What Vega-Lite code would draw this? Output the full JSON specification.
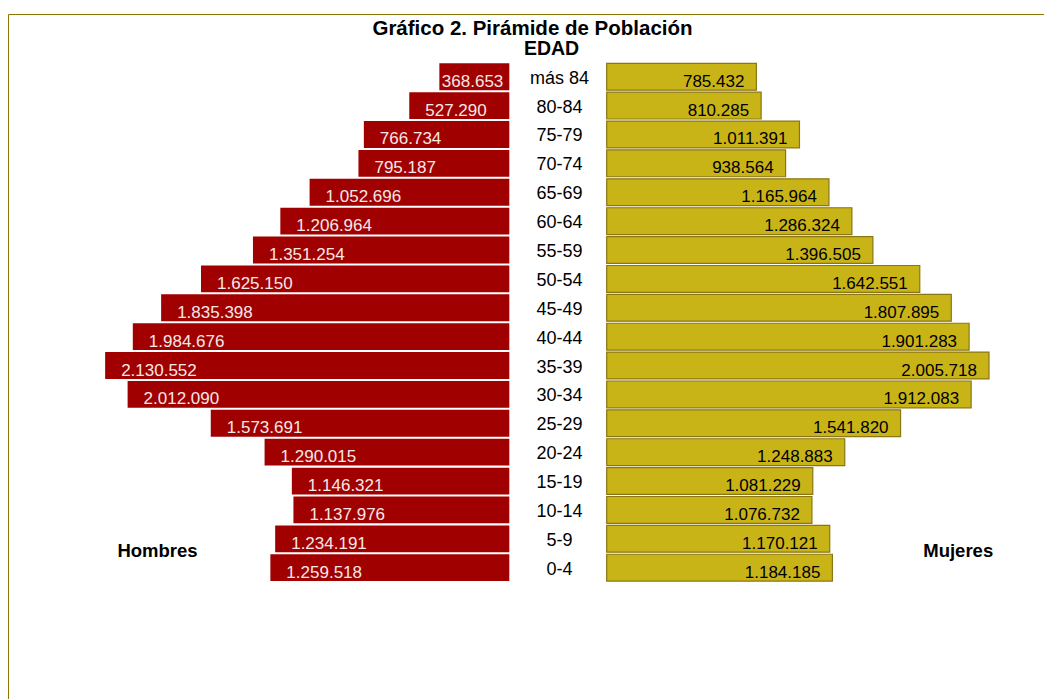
{
  "$schema": "https://vega.github.io/schema/vega-lite/v6.json",
  "width": 1038,
  "height": 687,
  "autosize": {"type": "none"},
  "padding": {"left": 8, "top": 14, "right": -2, "bottom": -2},
  "background": "white",
  "config": {
    "view": {"stroke": "#8c7500", "strokeWidth": 1},
    "font": "Liberation Sans",
    "locale": {"number": {"decimal": ",", "thousands": ".", "grouping": [3], "currency": ["", ""]}}
  },
  "title": {
    "text": "Gráfico 2. Pirámide de Población",
    "fontSize": 20.5,
    "fontWeight": "bold",
    "color": "black",
    "anchor": "middle",
    "baseline": "alphabetic",
    "offset": -41,
    "dx": 5.5
  },
  "data": {
    "values": [
      {"age": "más 84", "hombres": 368653, "mujeres": 785432},
      {"age": "80-84", "hombres": 527290, "mujeres": 810285},
      {"age": "75-79", "hombres": 766734, "mujeres": 1011391},
      {"age": "70-74", "hombres": 795187, "mujeres": 938564},
      {"age": "65-69", "hombres": 1052696, "mujeres": 1165964},
      {"age": "60-64", "hombres": 1206964, "mujeres": 1286324},
      {"age": "55-59", "hombres": 1351254, "mujeres": 1396505},
      {"age": "50-54", "hombres": 1625150, "mujeres": 1642551},
      {"age": "45-49", "hombres": 1835398, "mujeres": 1807895},
      {"age": "40-44", "hombres": 1984676, "mujeres": 1901283},
      {"age": "35-39", "hombres": 2130552, "mujeres": 2005718},
      {"age": "30-34", "hombres": 2012090, "mujeres": 1912083},
      {"age": "25-29", "hombres": 1573691, "mujeres": 1541820},
      {"age": "20-24", "hombres": 1290015, "mujeres": 1248883},
      {"age": "15-19", "hombres": 1146321, "mujeres": 1081229},
      {"age": "10-14", "hombres": 1137976, "mujeres": 1076732},
      {"age": "5-9", "hombres": 1234191, "mujeres": 1170121},
      {"age": "0-4", "hombres": 1259518, "mujeres": 1184185}
    ]
  },
  "resolve": {"scale": {"x": "independent"}},
  "layer": [
    {
      "encoding": {
        "y": {
          "field": "age", "type": "nominal",
          "scale": {
            "domain": ["más 84", "80-84", "75-79", "70-74", "65-69", "60-64", "55-59", "50-54", "45-49", "40-44", "35-39", "30-34", "25-29", "20-24", "15-19", "10-14", "5-9", "0-4"],
            "range": [48.3, 568.1], "paddingInner": 0.072, "paddingOuter": 0.036
          },
          "axis": {
            "orient": "left", "offset": -551, "domain": false, "ticks": false, "grid": false,
            "labelPadding": 0, "labelAlign": "center", "labelBaseline": "middle", "labelOffset": 2,
            "labelFontSize": 18, "labelColor": "black",
            "title": "EDAD", "titleAngle": 0, "titleX": -8, "titleY": 40,
            "titleAlign": "center", "titleBaseline": "alphabetic",
            "titleFontSize": 19.5, "titleFontWeight": "bold", "titleColor": "black"
          }
        },
        "x": {
          "field": "hombres", "type": "quantitative",
          "scale": {"domain": [0, 2000000], "range": [501.3, 121.9], "nice": false, "zero": true},
          "axis": {
            "orient": "bottom", "domain": false, "ticks": false, "labels": false, "grid": false,
            "title": "Hombres", "titleX": 149, "titleY": -145, "titleAngle": 0,
            "titleAlign": "center", "titleBaseline": "alphabetic",
            "titleFontSize": 18.5, "titleFontWeight": "bold", "titleColor": "black"
          }
        }
      },
      "layer": [
        {"mark": {"type": "bar", "color": "#a10000"}},
        {
          "transform": [{"filter": "datum.hombres >= 400000"}],
          "mark": {"type": "text", "align": "left", "baseline": "alphabetic", "dx": 16, "dy": 10, "fontSize": 17, "color": "#f4e8e8"},
          "encoding": {"text": {"field": "hombres", "type": "quantitative", "format": ",d"}}
        },
        {
          "transform": [{"filter": "datum.hombres < 400000"}],
          "mark": {"type": "text", "align": "left", "baseline": "alphabetic", "dx": 2.5, "dy": 10, "fontSize": 17, "color": "#f4e8e8"},
          "encoding": {"text": {"field": "hombres", "type": "quantitative", "format": ",d"}}
        }
      ]
    },
    {
      "encoding": {
        "y": {
          "field": "age", "type": "nominal",
          "scale": {
            "domain": ["más 84", "80-84", "75-79", "70-74", "65-69", "60-64", "55-59", "50-54", "45-49", "40-44", "35-39", "30-34", "25-29", "20-24", "15-19", "10-14", "5-9", "0-4"],
            "range": [48.3, 568.1], "paddingInner": 0.072, "paddingOuter": 0.036
          },
          "axis": {
            "orient": "left", "offset": -551, "domain": false, "ticks": false, "grid": false,
            "labelPadding": 0, "labelAlign": "center", "labelBaseline": "middle", "labelOffset": 2,
            "labelFontSize": 18, "labelColor": "black",
            "title": "EDAD", "titleAngle": 0, "titleX": -8, "titleY": 40,
            "titleAlign": "center", "titleBaseline": "alphabetic",
            "titleFontSize": 19.5, "titleFontWeight": "bold", "titleColor": "black"
          }
        },
        "x": {
          "field": "mujeres", "type": "quantitative",
          "scale": {"domain": [0, 2000000], "range": [598.7, 979.9], "nice": false, "zero": true},
          "axis": {
            "orient": "bottom", "domain": false, "ticks": false, "labels": false, "grid": false,
            "title": "Mujeres", "titleX": 949.7, "titleY": -145, "titleAngle": 0,
            "titleAlign": "center", "titleBaseline": "alphabetic",
            "titleFontSize": 18.5, "titleFontWeight": "bold", "titleColor": "black"
          }
        }
      },
      "layer": [
        {"mark": {"type": "bar", "color": "#c9b418", "stroke": "#8a7614", "strokeWidth": 1.2}},
        {
          "mark": {"type": "text", "align": "right", "baseline": "alphabetic", "dx": -12, "dy": 10, "fontSize": 17, "color": "black"},
          "encoding": {"text": {"field": "mujeres", "type": "quantitative", "format": ",d"}}
        }
      ]
    }
  ]
}
